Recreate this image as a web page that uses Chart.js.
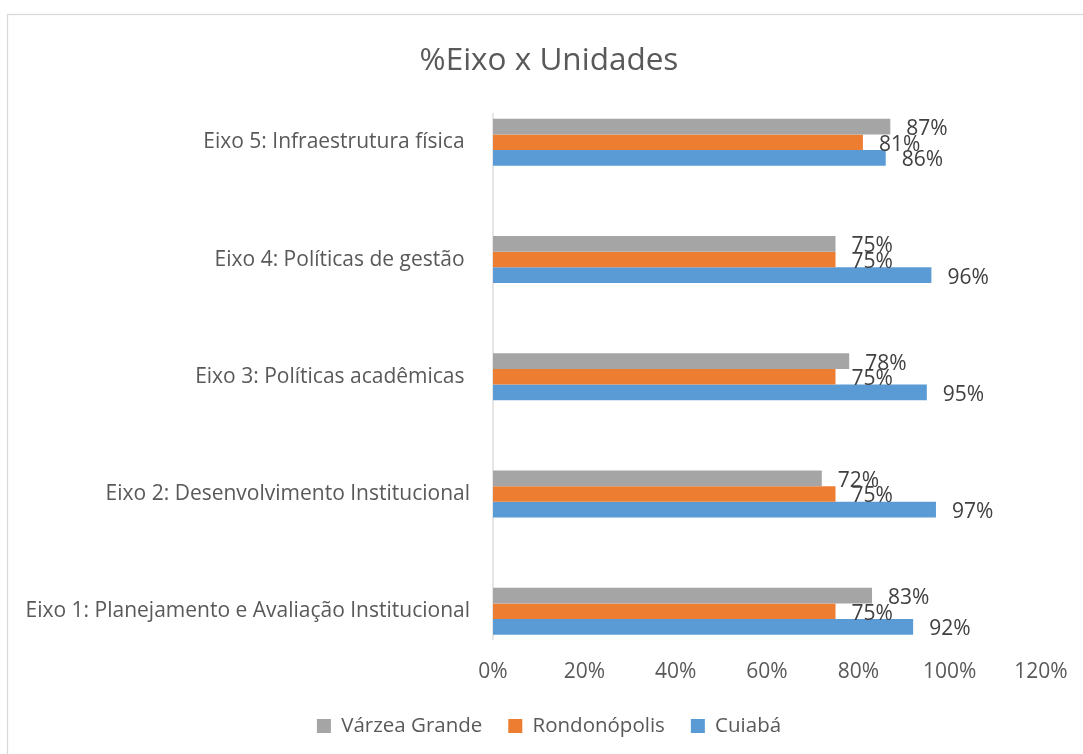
<!DOCTYPE html>
<html>
<head>
<meta charset="utf-8">
<title>%Eixo x Unidades</title>
<script src="https://cdn.jsdelivr.net/npm/chart.js@4/dist/chart.umd.min.js"></script>
<style>
    html, body { margin: 0; padding: 0; background: #ffffff; }
    #wrap { position: relative; width: 1083px; height: 754px; }
</style>
</head>
<body>
<div id="wrap"><canvas id="eixoChart"></canvas></div>
<script>
// Chart data
const categories = [
    'Eixo 5: Infraestrutura física ',
    'Eixo 4: Políticas de gestão ',
    'Eixo 3: Políticas acadêmicas ',
    'Eixo 2: Desenvolvimento Institucional',
    'Eixo 1: Planejamento e Avaliação Institucional'
];
const seriesNames = ['Várzea Grande', 'Rondonópolis', 'Cuiabá'];
const varzeaGrande = [87, 75, 78, 72, 83];
const rondonopolis = [81, 75, 75, 75, 75];
const cuiaba = [86, 96, 95, 97, 92];
const xTicks = [0, 20, 40, 60, 80, 100, 120];

const seriesColors = ['#a5a5a5', '#ed7d31', '#5b9bd5'];
const fontFamily = '"Open Sans", "Liberation Sans", sans-serif';

// light frame around the chart, like the Excel chart border
const framePlugin = {
    id: 'frame',
    beforeDraw(chart) {
        const ctx = chart.ctx;
        ctx.save();
        ctx.fillStyle = '#ffffff';
        ctx.fillRect(0, 0, chart.width, chart.height);
        ctx.strokeStyle = '#d9d9d9';
        ctx.lineWidth = 1.3;
        ctx.strokeRect(7.5, 14.5, chart.width + 20, chart.height + 20);
        ctx.restore();
    }
};

// vertical category axis line, only as tall as the bar groups
const axisLinePlugin = {
    id: 'axisLine',
    beforeDatasetsDraw(chart) {
        const firstMeta = chart.getDatasetMeta(0);
        const lastMeta = chart.getDatasetMeta(chart.data.datasets.length - 1);
        const first = firstMeta.data[0];
        const last = lastMeta.data[lastMeta.data.length - 1];
        if (!first || !last) return;
        const x = chart.scales.x.getPixelForValue(0);
        const ctx = chart.ctx;
        ctx.save();
        ctx.strokeStyle = '#d9d9d9';
        ctx.lineWidth = 1.3;
        ctx.beginPath();
        ctx.moveTo(x, first.y - first.height / 2 - 6);
        ctx.lineTo(x, last.y + last.height / 2 + 5);
        ctx.stroke();
        ctx.restore();
    }
};

// value labels at the end of each bar
const valueLabelPlugin = {
    id: 'valueLabels',
    afterDatasetsDraw(chart) {
        const ctx = chart.ctx;
        ctx.save();
        ctx.font = '21px ' + fontFamily;
        ctx.fillStyle = '#404040';
        ctx.textAlign = 'left';
        ctx.textBaseline = 'middle';
        chart.data.datasets.forEach((ds, i) => {
            const meta = chart.getDatasetMeta(i);
            meta.data.forEach((bar, j) => {
                ctx.fillText(ds.data[j] + '%', bar.x + 16, bar.y + 2.5);
            });
        });
        ctx.restore();
    }
};

const ctx = document.getElementById('eixoChart').getContext('2d');

const eixoChart = new Chart(ctx, {
    type: 'bar',
    data: {
        labels: categories,
        datasets: [
            { label: seriesNames[0], data: varzeaGrande, backgroundColor: seriesColors[0] },
            { label: seriesNames[1], data: rondonopolis, backgroundColor: seriesColors[1] },
            { label: seriesNames[2], data: cuiaba, backgroundColor: seriesColors[2] }
        ].map(ds => Object.assign(ds, {
            xAxisID: 'x',
            yAxisID: 'y',
            borderWidth: 0,
            clip: false,
            categoryPercentage: 0.4,
            barPercentage: 1.0
        }))
    },
    options: {
        indexAxis: 'y',
        responsive: true,
        maintainAspectRatio: false,
        animation: false,
        layout: {
            padding: { top: 0, left: 15, right: 0, bottom: 7.8 }
        },
        scales: {
            x: {
                type: 'linear',
                position: 'bottom',
                min: 0,
                max: 120,
                afterBuildTicks: scale => {
                    scale.ticks = xTicks.map(v => ({ value: v }));
                },
                afterFit: scale => {
                    scale.height = 78.5;
                    // the big tick padding should only push labels down, not sideways
                    scale.paddingLeft = 15;
                    scale.paddingRight = 30;
                },
                grid: { display: false, drawTicks: false },
                border: { display: false },
                ticks: {
                    padding: 48.7,
                    color: '#595959',
                    font: { family: fontFamily, size: 21 },
                    callback: v => v + '%'
                }
            },
            y: {
                type: 'category',
                position: 'left',
                offset: false,
                afterFit: scale => { scale.width = 478; },
                grid: { display: false, drawTicks: false },
                border: { display: false },
                ticks: {
                    padding: 23,
                    color: '#595959',
                    font: { family: fontFamily, size: 21 }
                }
            },
            // empty spacer on the right so the 120% tick lands where it does in the reference
            yRight: {
                type: 'category',
                position: 'right',
                afterFit: scale => { scale.width = 42; },
                grid: { display: false, drawTicks: false },
                border: { display: false },
                ticks: { display: false }
            }
        },
        plugins: {
            title: {
                display: true,
                text: '%Eixo x Unidades',
                color: '#595959',
                font: { family: fontFamily, size: 31.5, weight: 'normal' },
                padding: { top: 42, bottom: 62.5 }
            },
            legend: {
                position: 'bottom',
                labels: {
                    color: '#595959',
                    font: { family: fontFamily, size: 20.5 },
                    boxWidth: 14,
                    boxHeight: 14,
                    padding: 26
                }
            },
            tooltip: { enabled: false }
        }
    },
    plugins: [framePlugin, axisLinePlugin, valueLabelPlugin]
});
</script>
</body>
</html>
